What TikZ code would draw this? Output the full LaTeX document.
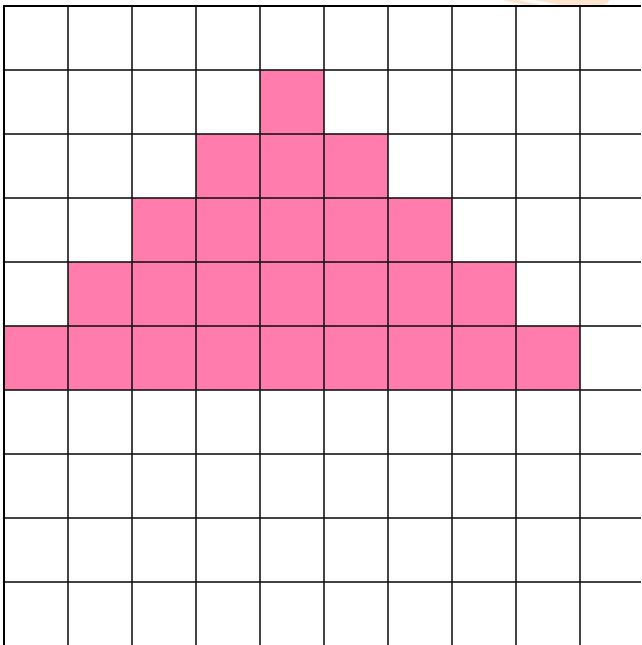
\documentclass[tikz,border=0pt]{standalone}
\begin{document}
\begin{tikzpicture}[x=1pt,y=-1pt,
  cell/.style={fill={rgb,255:red,255;green,124;blue,172}},
  gridline/.style={draw={rgb,255:red,20;green,20;blue,20},line width=2.6pt,opacity=0.8},
  edge/.style={draw=black,line width=2.8pt}]
\useasboundingbox (0,0) rectangle (641,645);
\fill[white] (0,0) rectangle (641,645);
% faint watermark
\fill[orange!20] (503,0) -- (518,0) -- (545,6) -- (530,6) -- cycle;
\fill[orange!20] (535,0) -- (610,0) -- (603,6) -- (565,6) -- cycle;
% pink cells
\fill[cell] (260,70) rectangle (324,134);
\fill[cell] (196,134) rectangle (388,198);
\fill[cell] (132,198) rectangle (452,262);
\fill[cell] (68,262) rectangle (516,326);
\fill[cell] (4,326) rectangle (580,390);
% grid
\foreach \k in {1,...,9} {
  \draw[gridline] ({4+64*\k},6) -- ({4+64*\k},645);
  \draw[gridline] (4,{6+64*\k}) -- (641,{6+64*\k});
}
\draw[edge] (4,645) -- (4,6) -- (641,6);
\end{tikzpicture}
\end{document}
